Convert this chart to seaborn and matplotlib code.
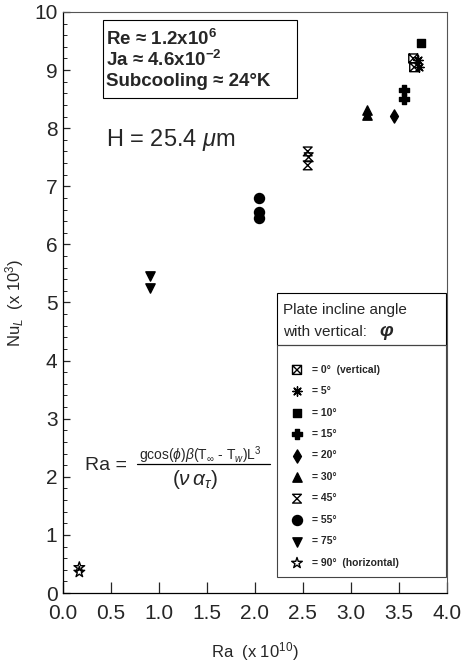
import numpy as np
import pandas as pd
import matplotlib.pyplot as plt
import seaborn as sns
from matplotlib.path import Path
from matplotlib.patches import Rectangle

# Nu_L (x 10^3) vs Ra (x 10^10) for each plate incline angle
ra_0 = [3.65, 3.66]
nu_0 = [9.20, 9.05]
ra_5 = [3.70, 3.71]
nu_5 = [9.18, 9.06]
ra_10 = [3.73]
nu_10 = [9.47]
ra_15 = [3.55, 3.55]
nu_15 = [8.65, 8.50]
ra_20 = [3.45]
nu_20 = [8.21]
ra_30 = [3.17, 3.17]
nu_30 = [8.32, 8.22]
ra_45 = [2.55, 2.56, 2.55]
nu_45 = [7.60, 7.50, 7.36]
ra_55 = [2.04, 2.04, 2.04]
nu_55 = [6.80, 6.55, 6.45]
ra_75 = [0.91, 0.91]
nu_75 = [5.45, 5.25]
ra_90 = [0.17, 0.17]
nu_90 = [0.44, 0.36]

angle_labels = ['= 0°  (vertical)', '= 5°', '= 10°', '= 15°', '= 20°',
                '= 30°', '= 45°', '= 55°', '= 75°', '= 90°  (horizontal)']
x_ticks = [0.0, 0.5, 1.0, 1.5, 2.0, 2.5, 3.0, 3.5, 4.0]
y_ticks = list(range(0, 11))

groups = [(ra_0, nu_0), (ra_5, nu_5), (ra_10, nu_10), (ra_15, nu_15), (ra_20, nu_20),
          (ra_30, nu_30), (ra_45, nu_45), (ra_55, nu_55), (ra_75, nu_75), (ra_90, nu_90)]

frames = []
for lab, (r, n) in zip(angle_labels, groups):
    frames.append(pd.DataFrame({'Ra': r, 'Nu': n, 'angle': lab}))
df = pd.concat(frames, ignore_index=True)

# special marker shapes: boxed X and hourglass
box_x = Path([(-1, -1), (1, -1), (1, 1), (-1, 1), (-1, -1), (-1, -1), (1, 1), (-1, 1), (1, -1)],
             [Path.MOVETO, Path.LINETO, Path.LINETO, Path.LINETO, Path.CLOSEPOLY,
              Path.MOVETO, Path.LINETO, Path.MOVETO, Path.LINETO])
hourglass = Path([(-1, 1), (1, 1), (-1, -1), (1, -1), (-1, 1)],
                 [Path.MOVETO, Path.LINETO, Path.LINETO, Path.LINETO, Path.CLOSEPOLY])

# marker, face colour, size
styles = [(box_x, 'none', 42), ((8, 2, 0), 'black', 45), ('s', 'black', 40),
          ('P', 'black', 50), ('d', 'black', 45), ('^', 'black', 45),
          (hourglass, 'none', 40), ('o', 'black', 52), ('v', 'black', 45),
          ('*', 'none', 65)]

sns.set_theme(style='ticks')
plt.rcParams['font.family'] = ['Liberation Sans', 'DejaVu Sans']
plt.rcParams['mathtext.fontset'] = 'custom'
plt.rcParams['mathtext.rm'] = 'Liberation Sans'
plt.rcParams['mathtext.it'] = 'Liberation Sans:italic'
plt.rcParams['mathtext.bf'] = 'Liberation Sans:bold'

fig = plt.figure(figsize=(4.65, 6.66), dpi=100)
ax = fig.add_axes([0.1355, 0.1096, 0.8255, 0.8724])

for lab, (mk, fc, sz) in zip(angle_labels, styles):
    sub = df[df['angle'] == lab]
    sns.scatterplot(data=sub, x='Ra', y='Nu', marker=mk, s=sz, color='black',
                    facecolor=fc, edgecolor='black', linewidth=1.0, label=lab, ax=ax)

ax.set_xlim(0, 4)
ax.set_ylim(0, 10)
ax.set_xticks(x_ticks)
ax.set_xticklabels([f'{t:.1f}' for t in x_ticks])
ax.set_yticks(y_ticks)
ax.set_yticks(np.arange(0, 10.01, 0.2), minor=True)
ax.tick_params(axis='x', direction='in', length=8, width=0.9, labelsize=15, pad=8)
ax.tick_params(axis='y', which='major', direction='in', length=5, width=0.9, labelsize=15, pad=4)
ax.tick_params(axis='y', which='minor', direction='in', length=3, width=0.7)
ax.tick_params(axis='x', which='minor', bottom=False)

for side in ['left', 'bottom']:
    ax.spines[side].set_linewidth(0.9)
    ax.spines[side].set_color('black')
for side in ['top', 'right']:
    ax.spines[side].set_visible(True)
    ax.spines[side].set_linewidth(0.8)
    ax.spines[side].set_color('#555555')

ax.set_xlabel('Ra  (x 10$^{10}$)', fontsize=12, labelpad=12)
ax.set_ylabel('Nu$_L$  (x 10$^3$)', fontsize=12, labelpad=6)

# parameter box
ax.add_patch(Rectangle((0.104, 0.852), 0.505, 0.134, transform=ax.transAxes,
                       fill=False, edgecolor='black', lw=0.8))
ax.text(0.112, 0.954, r'Re ≈ 1.2x10$^{\mathbf{6}}$', transform=ax.transAxes,
        fontsize=13.5, fontweight='bold', va='center')
ax.text(0.112, 0.917, r'Ja ≈ 4.6x10$^{\mathbf{-2}}$', transform=ax.transAxes,
        fontsize=13.5, fontweight='bold', va='center')
ax.text(0.112, 0.880, 'Subcooling ≈ 24°K', transform=ax.transAxes,
        fontsize=13.5, fontweight='bold', va='center')

ax.text(0.111, 0.78, r'H = 25.4 $\mu$m', transform=ax.transAxes, fontsize=17, va='center')

# Rayleigh number definition
ax.text(0.057, 0.220, 'Ra =', transform=ax.transAxes, fontsize=14, va='center')
ax.text(0.357, 0.237, r'gcos($\phi$)$\beta$(T$_\infty$ - T$_w$)L$^3$', transform=ax.transAxes,
        fontsize=10, ha='center', va='center')
ax.plot([0.193, 0.539], [0.222, 0.222], transform=ax.transAxes, color='black', lw=0.9)
ax.text(0.344, 0.195, r'$(\nu\,\alpha_\tau)$', transform=ax.transAxes, fontsize=15,
        ha='center', va='center')

# legend boxes
ax.add_patch(Rectangle((0.557, 0.427), 0.44, 0.089, transform=ax.transAxes,
                       fill=False, edgecolor='black', lw=0.8))
ax.add_patch(Rectangle((0.557, 0.028), 0.44, 0.399, transform=ax.transAxes,
                       fill=False, edgecolor='#444444', lw=0.8))
ax.text(0.573, 0.487, 'Plate incline angle', transform=ax.transAxes, fontsize=11, va='center')
ax.text(0.573, 0.449, 'with vertical: ', transform=ax.transAxes, fontsize=11, va='center')
ax.text(0.823, 0.450, 'φ', transform=ax.transAxes, fontsize=14, fontweight='bold',
        style='italic', va='center')

handles, labels = ax.get_legend_handles_labels()
ax.legend(handles, labels, loc='upper left', bbox_to_anchor=(0.596, 0.393),
          frameon=False, borderaxespad=0, borderpad=0, handlelength=1.0,
          handletextpad=0.9, labelspacing=1.1, prop={'size': 7.5, 'weight': 'bold'})

fig.savefig('out.png', dpi=100)
